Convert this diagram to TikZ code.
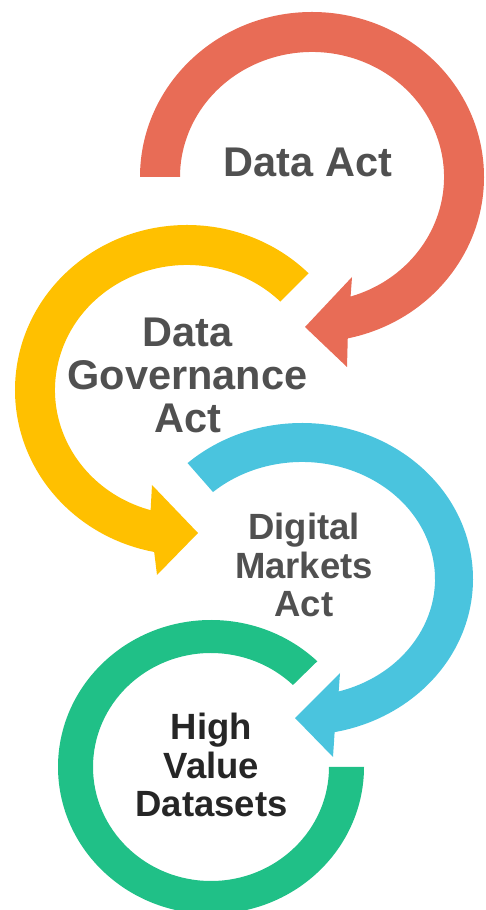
\documentclass[tikz,border=0pt]{standalone}
\usepackage{fontspec}
\setmainfont{Liberation Sans}
\usepackage{xcolor}
\usepackage{tikz}
\usetikzlibrary{calc}

\definecolor{actred}{RGB}{232,108,86}
\definecolor{actyellow}{RGB}{255,192,0}
\definecolor{actblue}{RGB}{74,196,222}
\definecolor{actgreen}{RGB}{32,192,135}
\definecolor{textgray}{RGB}{80,80,80}
\definecolor{textdark}{RGB}{38,38,38}

\begin{document}
\begin{tikzpicture}[
    x=1pt, y=1pt,
    label/.style={inner sep=0pt, align=center, anchor=base, text=textgray},
    bigtext/.style={font=\bfseries\fontsize{41.5}{43}\selectfont},
    smalltext/.style={font=\bfseries\fontsize{36.5}{38.5}\selectfont}
]
\useasboundingbox (0,0) rectangle (485,910);

% centres of the four rings
\coordinate (cA) at (312,733);
\coordinate (cB) at (187,520);
\coordinate (cC) at (302,331);
\coordinate (cD) at (211,143);

% High Value Datasets ring
\fill[actgreen] ($(cD)+(46:118 and 114)$) -- ($(cD)+(46:153 and 147)$)
  arc[start angle=46, end angle=360, x radius=153pt, y radius=147pt]
  -- ($(cD)+(0:118 and 114)$)
  arc[start angle=360, end angle=46, x radius=118pt, y radius=114pt] -- cycle;

% Digital Markets Act arrow
\fill[actblue] ($(cC)+(132:133 and 117)$) -- ($(cC)+(132:171 and 156)$)
  arc[start angle=132, end angle=-79, x radius=171pt, y radius=156pt]
  -- ($(cC)+(31,-178)$) -- ($(cC)+(-7,-139)$) -- ($(cC)+(38,-94)$)
  -- ($(cC)+(-74:133 and 117)$)
  arc[start angle=-74, end angle=132, x radius=133pt, y radius=117pt] -- cycle;

% Data Governance Act arrow
\fill[actyellow] ($(cB)+(45:132 and 125)$) -- ($(cB)+(45:172 and 165)$)
  arc[start angle=45, end angle=259, x radius=172pt, y radius=165pt]
  -- ($(cB)+(-30,-185)$) -- ($(cB)+(11,-143)$) -- ($(cB)+(-35,-95)$)
  -- ($(cB)+(254:132 and 125)$)
  arc[start angle=254, end angle=45, x radius=132pt, y radius=125pt] -- cycle;

% Data Act arrow
\fill[actred] ($(cA)+(180:132 and 125)$) -- ($(cA)+(180:172 and 165)$)
  arc[start angle=180, end angle=-78, x radius=172pt, y radius=165pt]
  -- ($(cA)+(35,-190)$) -- ($(cA)+(-7,-150)$) -- ($(cA)+(40,-100)$)
  -- ($(cA)+(-73:132 and 125)$)
  arc[start angle=-73, end angle=180, x radius=132pt, y radius=125pt] -- cycle;

% Labels (base = baseline of the last line)
\node[label, bigtext] (dataact) at (308,733) {Data Act};
\node[label, bigtext] (dga) at (187.5,477) {Data\\Governance\\Act};
\node[label, smalltext] (dma) at (304,293) {Digital\\Markets\\Act};
\node[label, smalltext, text=textdark] (hvd) at (211.5,93) {High\\Value\\Datasets};

\end{tikzpicture}
\end{document}
